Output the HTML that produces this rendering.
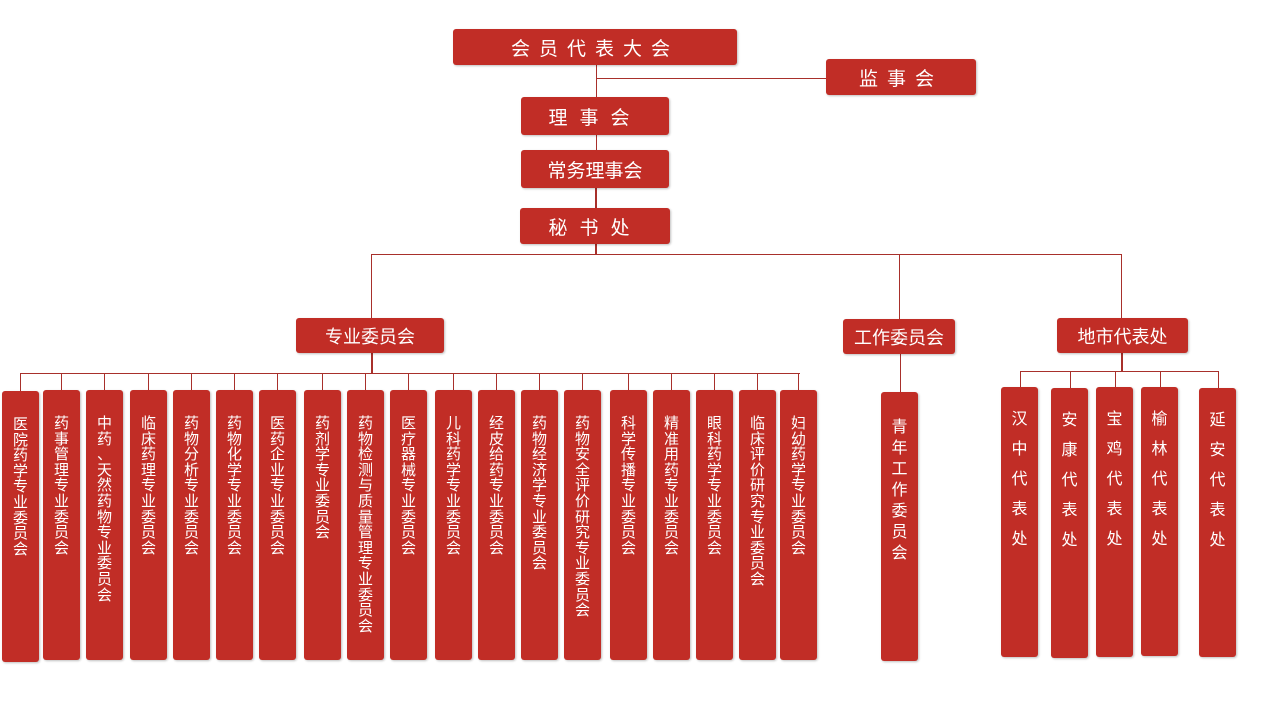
<!DOCTYPE html>
<html><head><meta charset="utf-8"><style>
body{margin:0;width:1280px;height:720px;background:#fff;position:relative;overflow:hidden;font-family:"Liberation Sans","Noto Sans CJK SC",sans-serif;}
.b{position:absolute;background:#c12d26;color:#fff;border-radius:3px;display:flex;align-items:center;justify-content:center;font-size:19px;box-shadow:1px 1px 2px rgba(0,0,0,.25);}
.v{position:absolute;background:#c12d26;color:#fff;border-radius:3px;box-shadow:1px 1px 2px rgba(0,0,0,.25);}
.v span{position:absolute;left:50%;margin-left:-8px;top:26px;width:16px;font-size:15px;line-height:15.6px;word-break:break-all;line-break:anywhere;text-align:center;}
.v.w span{line-height:30px;font-size:16px;top:18px;}
.l{position:absolute;background:#a8302b;}
</style></head><body>
<div class="l" style="left:596px;top:65px;width:1px;height:32px"></div>
<div class="l" style="left:596px;top:78px;width:230px;height:1px"></div>
<div class="l" style="left:596px;top:135px;width:1px;height:15px"></div>
<div class="l" style="left:595px;top:188px;width:2px;height:20px"></div>
<div class="l" style="left:595px;top:244px;width:2px;height:10px"></div>
<div class="l" style="left:371px;top:254px;width:751px;height:1px"></div>
<div class="l" style="left:371px;top:254px;width:1px;height:64px"></div>
<div class="l" style="left:899px;top:254px;width:1px;height:65px"></div>
<div class="l" style="left:1121px;top:254px;width:1px;height:64px"></div>
<div class="l" style="left:371px;top:353px;width:2px;height:20px"></div>
<div class="l" style="left:20px;top:373px;width:780px;height:1px"></div>
<div class="l" style="left:900px;top:354px;width:1px;height:38px"></div>
<div class="l" style="left:1121px;top:353px;width:2px;height:18px"></div>
<div class="l" style="left:1020px;top:371px;width:199px;height:1px"></div>

<div class="b" style="left:453px;top:29px;width:284px;height:36px;letter-spacing:9px">会员代表大会</div>
<div class="b" style="left:826px;top:59px;width:150px;height:36px;letter-spacing:9px">监事会</div>
<div class="b" style="left:521px;top:97px;width:148px;height:38px;letter-spacing:12px">理事会</div>
<div class="b" style="left:521px;top:150px;width:148px;height:38px">常务理事会</div>
<div class="b" style="left:520px;top:208px;width:150px;height:36px;letter-spacing:12px">秘书处</div>
<div class="b" style="left:296px;top:318px;width:148px;height:35px;font-size:18px">专业委员会</div>
<div class="b" style="left:843px;top:319px;width:112px;height:35px;font-size:18px">工作委员会</div>
<div class="b" style="left:1057px;top:318px;width:131px;height:35px;font-size:18px">地市代表处</div>

<div id="cols"></div>
<script>
var c=[[2,391,271,"医院药学专业委员会"],[43,390,270,"药事管理专业委员会"],[86,390,270,"中药、天然药物专业委员会"],[130,390,270,"临床药理专业委员会"],[173,390,270,"药物分析专业委员会"],[216,390,270,"药物化学专业委员会"],[259,390,270,"医药企业专业委员会"],[304,390,270,"药剂学专业委员会"],[347,390,270,"药物检测与质量管理专业委员会"],[390,390,270,"医疗器械专业委员会"],[435,390,270,"儿科药学专业委员会"],[478,390,270,"经皮给药专业委员会"],[521,390,270,"药物经济学专业委员会"],[564,390,270,"药物安全评价研究专业委员会"],[610,390,270,"科学传播专业委员会"],[653,390,270,"精准用药专业委员会"],[696,390,270,"眼科药学专业委员会"],[739,390,270,"临床评价研究专业委员会"],[780,390,270,"妇幼药学专业委员会"]];
var h="";
c.forEach(function(a){var cx=a[0]+18;h+='<div class="l" style="left:'+cx+'px;top:373px;width:1px;height:'+(a[1]-373)+'px"></div>';
var t=a[3].split("").map(function(ch){return '<div>'+ch+'</div>';}).join("");
h+='<div class="v" style="left:'+a[0]+'px;top:'+a[1]+'px;width:37px;height:'+a[2]+'px"><span>'+t+'</span></div>';});
h+='<div class="v w" style="left:881px;top:392px;width:37px;height:269px"><span style="top:25px;line-height:21px">青年工作委员会</span></div>';
var d=[[1001,387,270,"汉中代表处"],[1051,388,270,"安康代表处"],[1096,387,270,"宝鸡代表处"],[1141,387,269,"榆林代表处"],[1199,388,269,"延安代表处"]];
d.forEach(function(a){var cx=a[0]+19;h+='<div class="l" style="left:'+cx+'px;top:371px;width:1px;height:'+(a[1]-371)+'px"></div>';
h+='<div class="v w" style="left:'+a[0]+'px;top:'+a[1]+'px;width:37px;height:'+a[2]+'px"><span>'+a[3]+'</span></div>';});
document.getElementById("cols").innerHTML=h;
</script>
</body></html>
